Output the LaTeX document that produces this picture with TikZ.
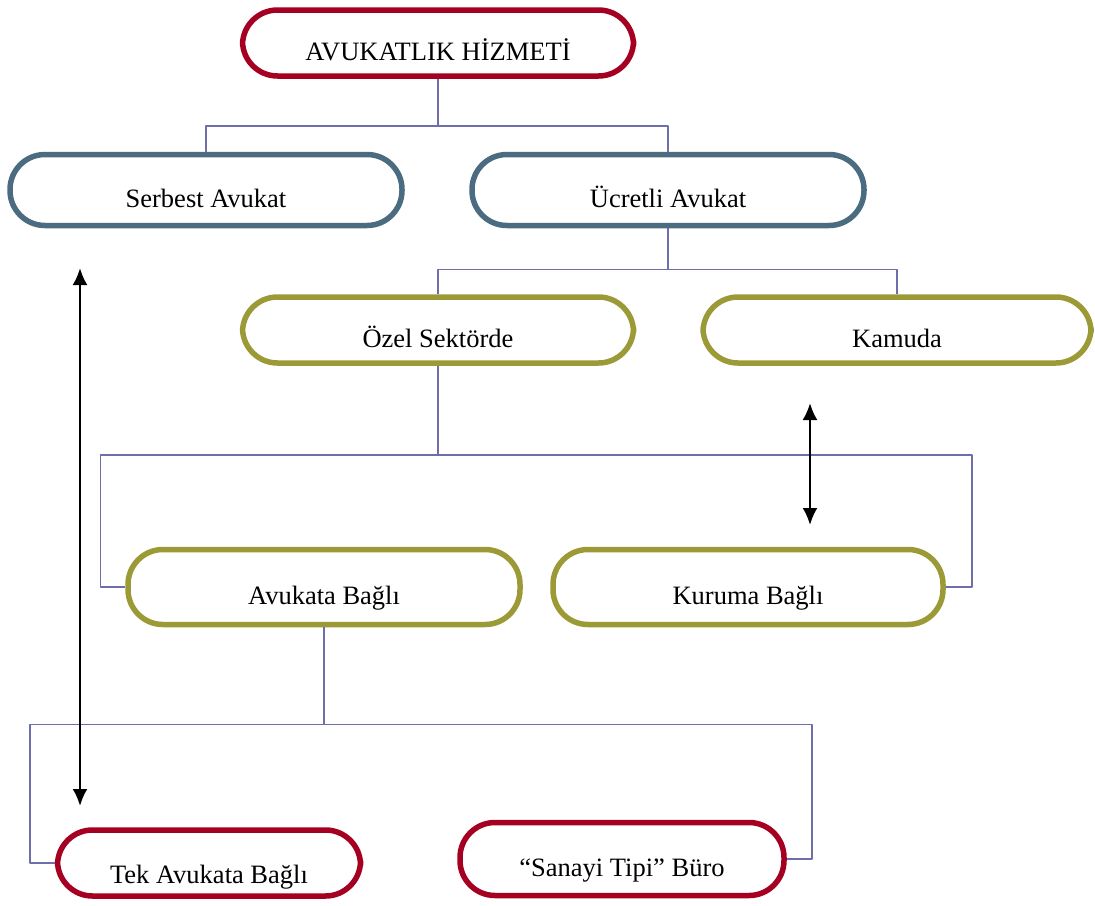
\documentclass[tikz,border=0pt]{standalone}
\usepackage{fontspec}
\setmainfont{Liberation Serif}
\usetikzlibrary{arrows.meta, calc}
\definecolor{kirmizi}{HTML}{A50021}
\definecolor{arduvaz}{HTML}{4B6B80}
\definecolor{zeytin}{HTML}{9C9A36}
\definecolor{baglanti}{HTML}{6E6EAA}

\begin{document}
\begin{tikzpicture}[>=Latex, line cap=round, line join=round, x=1pt, y=-1pt,
		font=\fontsize{26.5}{30}\selectfont,
		kutu/.style={draw=#1, line width=5.5pt, fill=white, text=black, rounded corners=35pt,
			inner sep=0pt, text height=34pt, text depth=0pt},
		link/.style={draw=baglanti, line width=1.5pt, line cap=butt, rounded corners=0pt},
		ok/.style={<->, line width=2.5pt, >={Latex[length=17pt,width=15pt]}}]
		
		\useasboundingbox (0,0) rectangle (1095,905);
		
		%========================
		% Level 1-2
		%========================
		\node[kutu=kirmizi, minimum width=391pt, minimum height=66pt] (hizmet) at (438,43) {AVUKATLIK HİZMETİ};
		\node[kutu=arduvaz, minimum width=392pt, minimum height=71pt] (serbest) at (206,190) {Serbest Avukat};
		\node[kutu=arduvaz, minimum width=392pt, minimum height=71pt] (ucretli) at (668,190) {Ücretli Avukat};
		
		\draw[link] (hizmet.south) -- ++(0,47) coordinate (j1);
		\draw[link] (j1) -| (serbest.north);
		\draw[link] (j1) -| (ucretli.north);
		
		%========================
		% Level 3
		%========================
		\node[kutu=zeytin, minimum width=391pt, minimum height=66pt] (ozel) at (438,330) {Özel Sektörde};
		\node[kutu=zeytin, minimum width=388pt, minimum height=66pt] (kamu) at (897,330) {Kamuda};
		
		\draw[link] (ucretli.south) -- ++(0,41) coordinate (j2);
		\draw[link] (j2) -| (ozel.north);
		\draw[link] (j2) -| (kamu.north);
		
		%========================
		% Level 4
		%========================
		\node[kutu=zeytin, minimum width=392pt, minimum height=75pt] (avukata) at (324,587) {Avukata Bağlı};
		\node[kutu=zeytin, minimum width=390pt, minimum height=75pt] (kuruma) at (748,587) {Kuruma Bağlı};
		
		\draw[link] (ozel.south) -- ++(0,89) coordinate (j3);
		\draw[link] (j3) -| ([xshift=-25pt]avukata.west) -- (avukata.west);
		\draw[link] (j3) -| ([xshift=26pt]kuruma.east) -- (kuruma.east);
		
		%========================
		% Level 5
		%========================
		\node[kutu=kirmizi, minimum width=303pt, minimum height=66pt, text height=40pt] (tek) at (209,863) {Tek Avukata Bağlı};
		\node[kutu=kirmizi, minimum width=324pt, minimum height=73pt] (sanayi) at (622,859) {“Sanayi Tipi” Büro};
		
		\draw[link] (avukata.south) -- ++(0,97) coordinate (j4);
		\draw[link] (j4) -| ([xshift=-25pt]tek.west) -- (tek.west);
		\draw[link] (j4) -| ([xshift=25pt]sanayi.east) -- (sanayi.east);
		
		% double arrows
		\coordinate (s1) at (80,268);
		\coordinate (s2) at (80,806);
		\coordinate (k1) at (810,403);
		\coordinate (k2) at (810,525);
		\draw[ok] (s1) -- (s2);
		\draw[ok] (k1) -- (k2);
		
	\end{tikzpicture}
\end{document}
